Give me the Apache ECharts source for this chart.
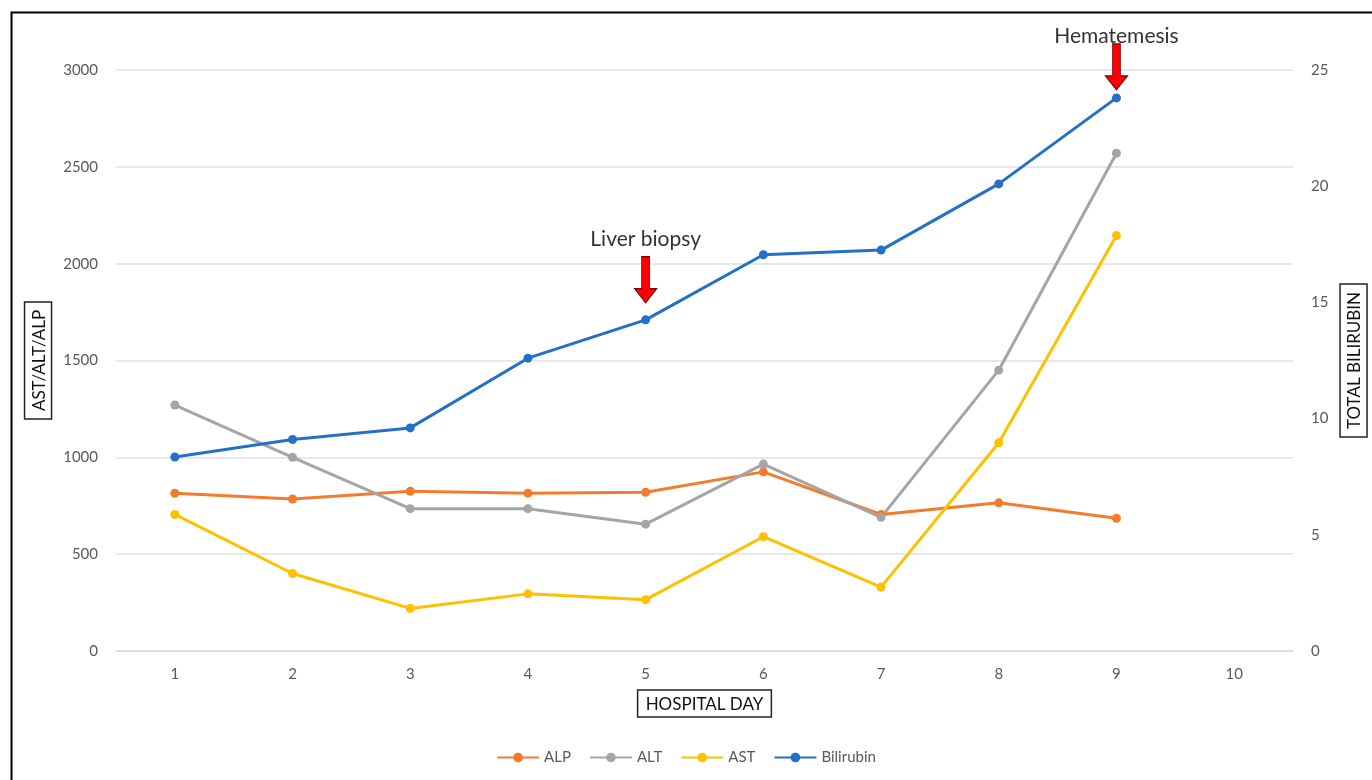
<!DOCTYPE html>
<html>
<head>
<meta charset="utf-8">
<title>Liver panel by hospital day</title>
<script src="https://cdn.jsdelivr.net/npm/echarts@6/dist/echarts.min.js"></script>
<style>
    html, body { margin: 0; padding: 0; background: #fff; }
    #main { width: 1372px; height: 780px; }
</style>
</head>
<body>
<div id="main"></div>
<script>
// data
var days = ['1', '2', '3', '4', '5', '6', '7', '8', '9', '10'];
var alp = [815, 785, 825, 815, 820, 925, 705, 765, 685];
var alt = [1270, 1000, 735, 735, 655, 965, 690, 1450, 2570];
var ast = [705, 400, 220, 295, 265, 590, 330, 1075, 2145];
var bilirubin = [8.35, 9.1, 9.6, 12.6, 14.25, 17.05, 17.25, 20.1, 23.8];
var events = [
    { day: '5', value: 14.25, text: 'Liver biopsy' },
    { day: '9', value: 23.8, text: 'Hematemesis' }
];
// how the two arrows sit above their points in the picture
var arrowLift = [-40, -31];
var labelGap = [6, -4];

var fontName = 'Lato, "Open Sans", sans-serif';
var arrowPath = 'path://M7,0 L15,0 L15,32 L22,32 L11,46 L0,32 L7,32 Z';

function lineSeries(name, data, color, axisIdx) {
    return {
        name: name,
        type: 'line',
        yAxisIndex: axisIdx,
        data: data,
        symbol: 'circle',
        symbolSize: 9,
        lineStyle: { width: 3, color: color },
        itemStyle: { color: color },
        emphasis: { disabled: true }
    };
}

function boxName() {
    return {
        color: '#111',
        fontFamily: fontName,
        fontSize: 17,
        borderColor: '#222',
        borderWidth: 1.5,
        padding: [6, 8, 4, 8]
    };
}

var myChart = echarts.init(document.getElementById('main'));

var bili = lineSeries('Bilirubin', bilirubin, '#2470C8', 1);
bili.markPoint = {
    symbol: arrowPath,
    symbolSize: [22, 46],
    itemStyle: { color: '#FF0000', borderColor: '#7a0000', borderWidth: 1 },
    label: {
        show: true,
        position: 'top',
        color: '#333',
        fontFamily: fontName,
        fontSize: 21,
        formatter: function (p) { return p.name; }
    },
    data: events.map(function (e, i) {
        return {
            name: e.text,
            coord: [e.day, e.value],
            symbolOffset: [0, arrowLift[i]],
            label: { distance: labelGap[i] }
        };
    })
};

var tickLabel = {
    color: '#595959',
    fontSize: 15,
    margin: 18,
    formatter: function (v) { return String(v); }
};

var option = {
    animation: false,
    textStyle: { fontFamily: fontName },
    graphic: [{
        type: 'rect',
        left: 9,
        top: 10,
        shape: { width: 1420, height: 820 },
        style: { fill: 'none', stroke: '#000', lineWidth: 2 },
        silent: true
    }],
    grid: { left: 116, right: 79, top: 70, bottom: 129, outerBoundsMode: 'none' },
    legend: {
        bottom: 10,
        itemWidth: 42,
        itemHeight: 12,
        itemGap: 18,
        textStyle: { color: '#595959', fontSize: 15, fontFamily: fontName },
        data: ['ALP', 'ALT', 'AST', 'Bilirubin']
    },
    xAxis: {
        type: 'category',
        data: days,
        boundaryGap: true,
        name: 'HOSPITAL DAY',
        nameLocation: 'middle',
        nameGap: 39,
        nameTextStyle: boxName(),
        axisLine: { lineStyle: { color: '#d9d9d9', width: 1.5 } },
        axisTick: { show: false },
        axisLabel: { color: '#595959', fontSize: 15, margin: 16 }
    },
    yAxis: [{
        type: 'value',
        min: 0,
        max: 3000,
        interval: 500,
        name: 'AST/ALT/ALP',
        nameLocation: 'middle',
        nameGap: 58,
        nameRotate: 90,
        nameTextStyle: boxName(),
        axisLine: { show: false },
        axisTick: { show: false },
        axisLabel: tickLabel,
        splitLine: { lineStyle: { color: '#e0e0e0', width: 1.5 } }
    }, {
        type: 'value',
        min: 0,
        max: 25,
        interval: 5,
        name: 'TOTAL BILIRUBIN',
        nameLocation: 'middle',
        nameGap: 45,
        nameRotate: 90,
        nameTextStyle: boxName(),
        axisLine: { show: false },
        axisTick: { show: false },
        axisLabel: tickLabel,
        splitLine: { show: false }
    }],
    series: [
        lineSeries('ALP', alp, '#F47B2B', 0),
        lineSeries('ALT', alt, '#A5A5A5', 0),
        lineSeries('AST', ast, '#FFC000', 0),
        bili
    ]
};

myChart.setOption(option);
</script>
</body>
</html>
